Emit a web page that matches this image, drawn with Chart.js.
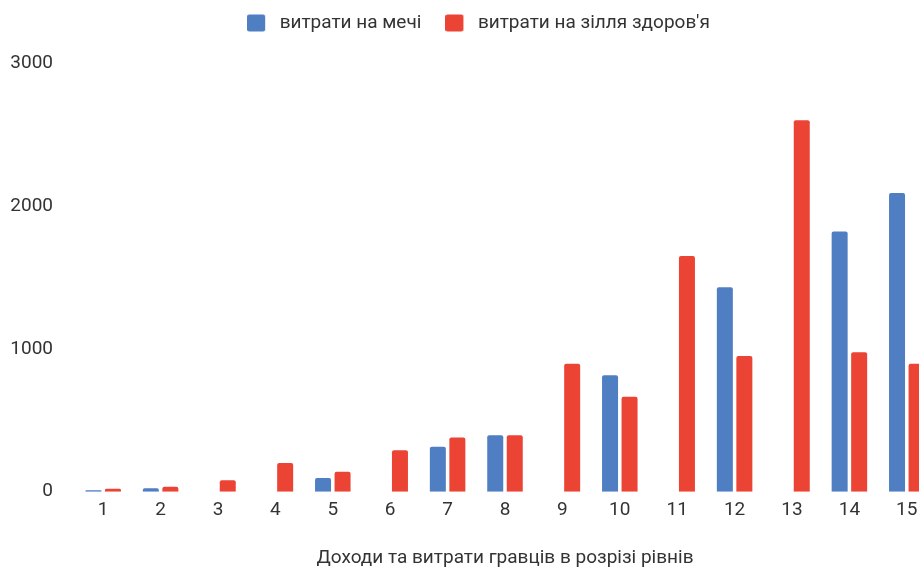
<!DOCTYPE html>
<html lang="uk">
<head>
<meta charset="utf-8">
<title>Витрати гравців за рівнями</title>
<script src="https://cdn.jsdelivr.net/npm/chart.js@4.4.1/dist/chart.umd.min.js"></script>
<style>
  html, body { margin: 0; padding: 0; background: #ffffff; overflow: hidden; }
  #wrap { position: relative; width: 957px; height: 567px; }
</style>
</head>
<body>
<div id="wrap"><canvas id="chart"></canvas></div>
<script>
// Рівні гравця
const levels = ['1', '2', '3', '4', '5', '6', '7', '8', '9', '10', '11', '12', '13', '14', '15'];
// Витрати на мечі (порожньо, де покупок не було)
const swordSpend = [10, 25, null, null, 95, null, 315, 395, null, 815, null, 1430, null, 1820, 2090];
// Витрати на зілля здоров'я
const potionSpend = [20, 35, 80, 200, 140, 290, 380, 395, 895, 665, 1650, 950, 2600, 975, 895];
// Поділки осі значень
const valueTicks = [0, 1000, 2000, 3000];

const seriesNames = ['витрати на мечі', "витрати на зілля здоров'я"];
const axisTitle = 'Доходи та витрати гравців в розрізі рівнів';

const BLUE = '#507ec2';
const RED = '#ec4434';
const TEXT = '#333333';

Chart.defaults.font.family = 'Roboto, Arial, sans-serif';
Chart.defaults.color = TEXT;

// Legend swatch: rounded square with some breathing room on its right
function swatch(color) {
  const c = document.createElement('canvas');
  c.width = 23;
  c.height = 18;
  const g = c.getContext('2d');
  g.fillStyle = color;
  g.beginPath();
  g.roundRect(0, 0.5, 18, 17, 2);
  g.fill();
  return c;
}
const swatches = [swatch(BLUE), swatch(RED)];

new Chart(document.getElementById('chart'), {
  type: 'bar',
  data: {
    labels: levels,
    datasets: [
      {
        label: seriesNames[0],
        data: swordSpend,
        backgroundColor: BLUE,
        borderRadius: 2,
        categoryPercentage: 0.68,
        barPercentage: 0.82
      },
      {
        label: seriesNames[1],
        data: potionSpend,
        backgroundColor: RED,
        borderRadius: 2,
        categoryPercentage: 0.68,
        barPercentage: 0.82
      }
    ]
  },
  options: {
    responsive: true,
    maintainAspectRatio: false,
    animation: false,
    layout: { padding: { top: -10.5, left: 0, right: 0, bottom: 0 } },
    plugins: {
      legend: {
        position: 'top',
        align: 'center',
        labels: {
          usePointStyle: true,
          pointStyleWidth: 23,
          boxHeight: 17,
          padding: 24,
          color: TEXT,
          font: { size: 19 },
          generateLabels(chart) {
            const items = Chart.defaults.plugins.legend.labels.generateLabels(chart);
            items.forEach((item, i) => { item.pointStyle = swatches[i]; });
            return items;
          }
        }
      },
      // empty spacer between the legend row and the plot area
      title: {
        display: true,
        text: '',
        weight: 500,
        font: { size: 10, lineHeight: 1 },
        padding: { top: 10.5, bottom: 0 }
      },
      tooltip: { enabled: false }
    },
    scales: {
      x: {
        grid: { display: false, drawTicks: false },
        border: { display: false },
        ticks: {
          autoSkip: false,
          maxRotation: 0,
          padding: 7,
          color: TEXT,
          font: { size: 19 }
        },
        title: {
          display: true,
          text: axisTitle,
          color: TEXT,
          font: { size: 19 },
          padding: { top: 0, bottom: -3 }
        },
        afterFit(scale) { scale.height = 75.3; }
      },
      y: {
        min: 0,
        max: 3000,
        grid: { display: false, drawTicks: false },
        border: { display: false },
        afterBuildTicks(scale) { scale.ticks = valueTicks.map(v => ({ value: v })); },
        ticks: {
          padding: 21.5,
          color: TEXT,
          font: { size: 19 },
          callback: v => String(v)
        },
        afterFit(scale) { scale.width = 74.5; }
      },
      yRight: {
        position: 'right',
        display: true,
        grid: { display: false, drawTicks: false },
        border: { display: false },
        ticks: { display: false },
        afterFit(scale) { scale.width = 21.5; }
      }
    }
  }
});
</script>
</body>
</html>
